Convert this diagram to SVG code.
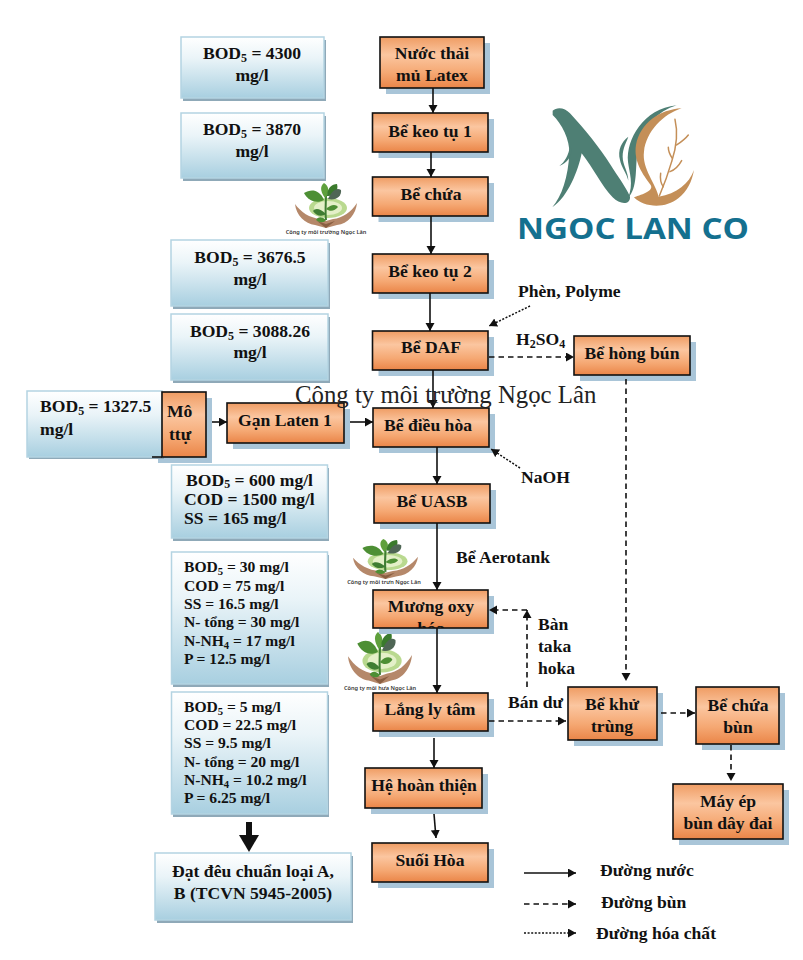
<svg xmlns="http://www.w3.org/2000/svg" width="803" height="960" viewBox="0 0 803 960">
<style>
text{font-family:"Liberation Serif","Noto Serif",serif;font-weight:700;fill:#111}
.c{text-anchor:middle}
.o{fill:url(#og);stroke:#111;stroke-width:1.6}
.os{fill:#a9c5d8}
.b{fill:url(#bg);stroke:#b4d4e2;stroke-width:1.5}
.bs{fill:#8fa9b8}
.f17{font-size:17.6px}
.f15{font-size:15.6px}
.sub{font-size:.68em}
.em{font-family:"Noto Sans",sans-serif;font-size:5.6px;font-weight:600;fill:#333;text-anchor:middle}
.w,.d,.h{fill:none;stroke:#111;stroke-width:1.6;marker-end:url(#ah)}
.d{stroke-dasharray:5.5 4}
.h{stroke-dasharray:2 1.6;stroke-width:1.5}
</style>
<defs>
<linearGradient id="og" x1="0" y1="0" x2="0" y2="1"><stop offset="0" stop-color="#ef9c63"/><stop offset=".35" stop-color="#fbc6a0"/><stop offset=".7" stop-color="#f5a873"/><stop offset="1" stop-color="#ea8548"/></linearGradient>
<linearGradient id="bg" x1="0" y1="0" x2="0" y2="1"><stop offset="0" stop-color="#ffffff"/><stop offset=".35" stop-color="#eaf4f8"/><stop offset="1" stop-color="#a8cfe0"/></linearGradient>
<marker id="ah" markerUnits="userSpaceOnUse" markerWidth="10" markerHeight="10" refX="8" refY="4.5" orient="auto"><path d="M0,0L8,4.500L0,9Z" fill="#111"/></marker>
<clipPath id="mclip"><rect x="373" y="590" width="115" height="38"/></clipPath>
<symbol id="emblem" viewBox="0 0 62 45" preserveAspectRatio="none">
<ellipse cx="33" cy="25" rx="19" ry="10" fill="#b9d98f"/>
<ellipse cx="33" cy="25" rx="14" ry="7" fill="#e4f0c8"/>
<path d="M0,21C6,29 14,35 26,36L31,38L38,36C48,35 56,29 62,20C61,31 53,41 42,42L31,45L20,42C10,41 1,32 0,21Z" fill="#b5886a"/>
<path d="M22,38L31,45L40,38L31,41Z" fill="#8a5f42"/>
<path d="M31,10C31,20 30,28 31,37" fill="none" stroke="#3f7d33" stroke-width="2"/>
<path d="M29,17C24,6 16,6 9,10C13,18 22,21 29,17Z" fill="#4d8f34"/>
<path d="M30,15C25,8 25,3 29,0C34,3 35,9 30,15Z" fill="#5fa03c"/>
<path d="M32,13C32,5 37,1 42,1C44,7 39,14 32,13Z" fill="#3a7a2c"/>
<path d="M33,16C37,7 42,4 46,7C47,13 41,18 33,16Z" fill="#4f6655"/>
<path d="M31,31C25,25 20,25 18,28C21,33 27,34 31,31Z" fill="#3f7d33"/>
<path d="M31,26C36,21 41,21 43,24C40,28 35,29 31,26Z" fill="#4d8f34"/>
<path d="M31,37C26,33 23,34 21,37C25,40 29,40 31,37Z" fill="#4d8f34"/>
</symbol>
</defs>
<rect width="803" height="960" fill="#fff"/>

<g id="logo-ngoc-lan" transform="translate(500 90) scale(.3333)">
<path d="M158,62C170,50 195,52 210,70C255,118 300,175 332,225C350,255 378,290 390,320C392,345 360,345 338,322C305,288 280,235 245,190C235,240 205,320 157,352C185,320 205,260 208,190C210,150 185,100 158,75Z" fill="#4e7f74"/>
<path d="M210,170C205,195 195,215 178,228C200,220 215,200 215,180Z" fill="#4e7f74"/>
<path d="M384,325C402,280 388,250 384,215C378,150 430,55 530,46C475,62 425,110 412,190C405,240 414,290 384,325Z" fill="#4e7f74"/>
<path d="M385,140C365,155 352,180 360,210C364,232 380,250 385,272C385,245 368,225 368,200C368,175 378,160 385,140Z" fill="#4e7f74"/>
<path d="M545,55C480,58 420,100 408,165C400,215 430,255 452,285C462,302 430,312 402,322C430,352 495,358 535,325C562,303 576,275 582,240C568,280 530,312 476,320C470,285 425,235 432,185C438,125 490,72 545,55Z" fill="#c48f58"/>
<g fill="none" stroke="#c48f58" stroke-width="4.500" stroke-linecap="round">
<path d="M525,88C535,130 530,170 515,215C505,250 490,290 478,318"/>
<path d="M530,165C545,155 555,148 565,135"/><path d="M517,205C510,195 505,185 505,172"/><path d="M510,245C525,240 535,230 545,212"/><path d="M490,290C482,280 480,265 482,250"/>
</g>
</g>
<text id="logo-text" x="517" y="239" textLength="232" lengthAdjust="spacingAndGlyphs" style="font-family:'Open Sans','Noto Sans',sans-serif;font-size:28px;font-weight:700;fill:#14708f">NGOC LAN CO</text>

<g id="emblem-1"><use href="#emblem" x="295" y="183" width="62" height="45"/><text x="326" y="234" class="em">Công ty môi trường Ngọc Lân</text></g>
<g id="emblem-2"><use href="#emblem" x="353" y="539" width="65" height="40"/><text x="384" y="584" class="em">Công ty môi trưn Ngọc Lân</text></g>
<g id="emblem-3"><use href="#emblem" x="348" y="632" width="64" height="52"/><text x="380" y="690" class="em">Công ty môi hưa Ngọc Lân</text></g>

<g id="info-1"><rect class="bs" x="183" y="40" width="143" height="61"/><rect class="b" x="181" y="37" width="143" height="61"/><text class="c f17" x="252" y="59">BOD<tspan class="sub" dy="3">5</tspan><tspan dy="-3"> = 4300</tspan></text><text class="c f17" x="252" y="81">mg/l</text></g>
<g id="info-2"><rect class="bs" x="183" y="116" width="143" height="65"/><rect class="b" x="181" y="113" width="143" height="65"/><text class="c f17" x="252" y="135">BOD<tspan class="sub" dy="3">5</tspan><tspan dy="-3"> = 3870</tspan></text><text class="c f17" x="252" y="157">mg/l</text></g>
<g id="info-3"><rect class="bs" x="173" y="243" width="157" height="66"/><rect class="b" x="171" y="240" width="157" height="66"/><text class="c f17" x="250" y="263">BOD<tspan class="sub" dy="3">5</tspan><tspan dy="-3"> = 3676.5</tspan></text><text class="c f17" x="250" y="285">mg/l</text></g>
<g id="info-4"><rect class="bs" x="173" y="317" width="157" height="66"/><rect class="b" x="171" y="314" width="157" height="66"/><text class="c f17" x="250" y="337">BOD<tspan class="sub" dy="3">5</tspan><tspan dy="-3"> = 3088.26</tspan></text><text class="c f17" x="250" y="358">mg/l</text></g>
<g id="n-mo-ttu"><path class="os" d="M162,398H212V463H158V459H162Z"/></g>
<g id="info-5"><rect class="bs" x="29" y="394" width="135" height="65"/><rect class="b" x="27" y="391" width="135" height="66"/><text class="f17" x="40" y="412">BOD<tspan class="sub" dy="3">5</tspan><tspan dy="-3"> = 1327.5</tspan></text><text class="f17" x="40" y="435">mg/l</text></g>
<g id="n-mo-ttu-box"><rect class="o" x="162" y="392" width="44" height="65"/><path d="M152,457H162" stroke="#111" stroke-width="1.600"/><text class="f17" x="167" y="417">Mô</text><text class="f17" x="169" y="440">ttự</text></g>
<g id="info-6"><rect class="bs" x="173" y="468" width="156" height="73"/><rect class="b" x="171.500" y="465" width="156" height="73"/><text class="f17" x="186" y="486">BOD<tspan class="sub" dy="2">5</tspan><tspan dy="-2"> = 600 mg/l</tspan></text><text class="f17" x="184" y="505">COD = 1500 mg/l</text><text class="f17" x="184" y="524">SS = 165 mg/l</text></g>
<g id="info-7"><rect class="bs" x="173" y="555" width="156" height="132"/><rect class="b" x="171.500" y="552" width="156" height="132"/><text class="f15" x="184" y="572">BOD<tspan class="sub" dy="3">5</tspan><tspan dy="-3"> = 30 mg/l</tspan></text><text class="f15" x="184" y="591">COD = 75 mg/l</text><text class="f15" x="184" y="609">SS = 16.5 mg/l</text><text class="f15" x="184" y="627">N- tổng = 30 mg/l</text><text class="f15" x="184" y="646">N-NH<tspan class="sub" dy="3">4</tspan><tspan dy="-3"> = 17 mg/l</tspan></text><text class="f15" x="184" y="664">P = 12.5 mg/l</text></g>
<g id="info-8"><rect class="bs" x="173" y="695" width="156" height="122"/><rect class="b" x="171.500" y="692" width="156" height="122"/><text class="f15" x="184" y="712">BOD<tspan class="sub" dy="3">5</tspan><tspan dy="-3"> = 5 mg/l</tspan></text><text class="f15" x="184" y="730">COD = 22.5 mg/l</text><text class="f15" x="184" y="748">SS = 9.5 mg/l</text><text class="f15" x="184" y="767">N- tổng = 20 mg/l</text><text class="f15" x="184" y="785">N-NH<tspan class="sub" dy="3">4</tspan><tspan dy="-3"> = 10.2 mg/l</tspan></text><text class="f15" x="184" y="803">P = 6.25 mg/l</text></g>
<g id="info-9"><rect class="bs" x="157" y="856" width="196" height="67"/><rect class="b" x="155" y="853" width="196" height="67"/><text class="c f17" x="253" y="877">Đạt đêu chuẩn loại A,</text><text class="c f17" x="253" y="899">B (TCVN 5945-2005)</text></g>

<g id="n-nuoc-thai"><rect class="os" x="386" y="43" width="104" height="51"/><rect class="o" x="380" y="37" width="104" height="51"/><text class="c f17" x="432" y="59">Nước thải</text><text class="c f17" x="432" y="81">mủ Latex</text></g>
<g id="n-keo-tu-1"><rect class="os" x="378.500" y="119" width="115.500" height="39"/><rect class="o" x="372.500" y="113" width="115.500" height="39"/><text class="c f17" x="430" y="137">Bể keo tụ 1</text></g>
<g id="n-be-chua"><rect class="os" x="378.500" y="183" width="115.500" height="39"/><rect class="o" x="372.500" y="177" width="115.500" height="39"/><text class="c f17" x="431" y="200">Bể chứa</text></g>
<g id="n-keo-tu-2"><rect class="os" x="378.500" y="260" width="115.500" height="39"/><rect class="o" x="372.500" y="254" width="115.500" height="39"/><text class="c f17" x="430" y="277">Bể keo tụ 2</text></g>
<g id="n-daf"><rect class="os" x="378.500" y="337" width="115.500" height="39"/><rect class="o" x="372.500" y="331" width="115.500" height="39"/><text class="c f17" x="431" y="353">Bể DAF</text></g>
<g id="n-hong-bun"><rect class="os" x="580" y="342" width="116" height="39"/><rect class="o" x="574" y="336" width="116" height="39"/><text class="c f17" x="632" y="359">Bể hòng bún</text></g>
<g id="n-gan-laten"><rect class="os" x="233" y="409" width="117" height="40"/><rect class="o" x="227" y="403" width="117" height="40"/><text class="c f17" x="285" y="426">Gạn Laten 1</text></g>
<g id="n-dieu-hoa"><rect class="os" x="379" y="414" width="116" height="39"/><rect class="o" x="373" y="408" width="116" height="39"/><text class="c f17" x="428" y="431">Bể điều hòa</text></g>
<g id="n-uasb"><rect class="os" x="380" y="490" width="116" height="39"/><rect class="o" x="374" y="484" width="116" height="39"/><text class="c f17" x="432" y="507">Bể UASB</text></g>
<g id="n-muong-oxy"><rect class="os" x="379" y="596" width="115" height="38"/><rect class="o" x="373" y="590" width="115" height="38"/><text class="c f17" x="431" y="612">Mương oxy</text><g clip-path="url(#mclip)"><text class="c f17" x="431" y="634">hóa</text></g></g>
<g id="n-lang"><rect class="os" x="379" y="699" width="115" height="38"/><rect class="o" x="373" y="693" width="115" height="38"/><text class="c f17" x="430" y="715">Lắng ly tâm</text></g>
<g id="n-hoan-thien"><rect class="os" x="371" y="774" width="117" height="40"/><rect class="o" x="365" y="768" width="117" height="40"/><text class="c f17" x="424" y="791">Hệ hoàn thiện</text></g>
<g id="n-suoi-hoa"><rect class="os" x="378" y="849" width="116" height="39"/><rect class="o" x="372" y="843" width="116" height="39"/><text class="c f17" x="430" y="866">Suối Hòa</text></g>
<g id="n-khu-trung"><rect class="os" x="574" y="693" width="89" height="53"/><rect class="o" x="568" y="687" width="89" height="53"/><text class="c f17" x="612" y="710">Bể khử</text><text class="c f17" x="612" y="732">trùng</text></g>
<g id="n-chua-bun"><rect class="os" x="702" y="693" width="83" height="57"/><rect class="o" x="696" y="687" width="83" height="57"/><text class="c f17" x="738" y="711">Bể chứa</text><text class="c f17" x="738" y="733">bùn</text></g>
<g id="n-may-ep"><rect class="os" x="679" y="790" width="110" height="55"/><rect class="o" x="673" y="784" width="110" height="55"/><text class="c f17" x="728" y="807">Máy ép</text><text class="c f17" x="728" y="829">bùn dây đai</text></g>

<g id="connectors">
<path class="w" d="M433,88V113"/>
<path class="w" d="M431,152V177"/>
<path class="w" d="M431,216V254"/>
<path class="w" d="M430,293V331"/>
<path class="w" d="M433,370V408"/>
<path class="w" d="M437,447V484"/>
<path class="w" d="M437,523V590"/>
<path class="w" d="M437,628V693"/>
<path class="w" d="M434,738V768"/>
<path class="w" d="M434,814L436,838"/>
<path class="w" d="M350,422H373"/>
<path class="w" d="M212,422H227"/>
<path class="d" d="M489,357H574"/>
<path class="d" d="M626,379V681"/>
<path class="d" d="M489,721H566"/>
<path class="d" d="M661,713H695"/>
<path class="d" d="M731,745V781"/>
<path class="d" d="M527,687V610"/>
<path class="d" d="M527,610H489"/>
<path class="h" d="M530,306L489,326"/>
<path class="h" d="M520,468L491,449"/>
<path d="M249,822V838" stroke="#111" stroke-width="6" fill="none"/><path d="M239,835H259L249,852Z" fill="#111"/>
<path class="w" d="M524,873H576"/>
<path class="d" d="M524,904H576"/>
<path class="h" d="M524,933H576"/>
</g>

<g id="labels">
<text class="f17" x="518" y="297">Phèn, Polyme</text>
<text class="f17" x="516" y="345">H<tspan class="sub" dy="3">2</tspan><tspan dy="-3">SO</tspan><tspan class="sub" dy="3">4</tspan></text>
<text class="f17" x="521" y="483">NaOH</text>
<text class="f17" x="456" y="563">Bể Aerotank</text>
<text class="f17" x="538" y="630">Bàn</text>
<text class="f17" x="538" y="652">taka</text>
<text class="f17" x="538" y="674">hoka</text>
<text class="f17" x="508" y="708">Bán dư</text>
<text class="f17" x="600" y="876">Đường nước</text>
<text class="f17" x="601" y="908">Đường bùn</text>
<text class="f17" x="596" y="939">Đường hóa chất</text>
<text x="295" y="403" style="font-size:24.8px;font-weight:400;fill:#222">Công ty môi trường Ngọc Lân</text>
</g>
</svg>
